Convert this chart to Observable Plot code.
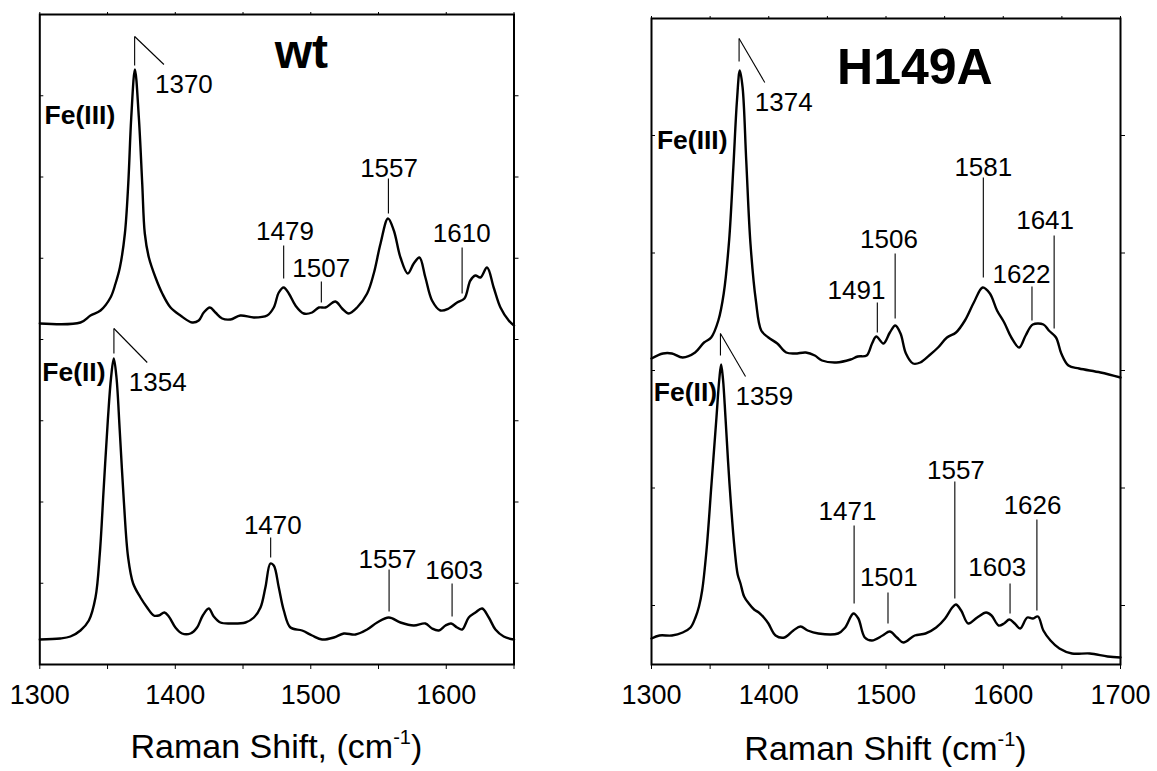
<!DOCTYPE html>
<html><head><meta charset="utf-8">
<script src="https://cdn.jsdelivr.net/npm/d3@7"></script>
<script src="https://cdn.jsdelivr.net/npm/@observablehq/plot@0.6"></script>
<style>
body{margin:0;background:#fff;}
#chart{position:relative;width:1157px;height:771px;overflow:hidden;font-family:"Liberation Sans",Arial,sans-serif;}
#chart svg{position:absolute;top:0;}
</style></head><body><div id="chart"></div>
<script>
// ---------- wt spectra (Raman shift cm-1, intensity a.u.) ----------
const wtFe3Shift = [1300,1330,1337.4,1344.8,1352.2,1355.9,1359.1,1362.8,1365.3,1367.5,1370.2,1373.1,1375.6,1377.5,1380.5,1385.4,1390.4,1396.5,1403.8,1412.4,1417.3,1421,1425.5,1429.6,1434.6,1440.7,1448,1458,1467.8,1472.7,1476.4,1480,1483.8,1488.7,1494.8,1501,1506,1510.8,1518.2,1523.1,1528,1534.2,1541.6,1546.5,1551.5,1557,1561.3,1566.2,1571.6,1576,1580.2,1584.6,1589.5,1595.7,1601.8,1608,1613.4,1617.8,1621.5,1625.2,1630.1,1635,1640,1646.1,1650];
const wtFe3Int   = [341,342,349,354,367,381,397,431,481,547,595,547,481,431,407,387,371,357,349,342,344,352,357,352,346,345,349,347,349,357,372,377,371,359,351,352,357,357,363,356,351,357,371,391,421,446,434,407,391,401,407,387,364,354,356,362,366,384,389,387,397,377,357,344,339];
const wtFe2Shift = [1300,1315,1322.6,1330,1336.2,1341.1,1344.3,1347.2,1350.2,1352.6,1354.6,1356.6,1359,1362,1365.2,1368.9,1374.3,1379.2,1384.1,1387.8,1392,1395.2,1400.1,1405,1411.2,1416.1,1420.3,1424.7,1428.4,1433.3,1440.7,1451.8,1458,1462.9,1466.5,1470.2,1472.7,1476.4,1480.1,1485,1493.6,1501,1508.4,1517,1524.4,1533,1541.6,1549,1557.6,1566.2,1576,1584.6,1589.5,1594.5,1599.4,1603.6,1608,1611.7,1616.6,1621.5,1626.5,1631.4,1636.3,1642.4,1650];
const wtFe2Int   = [25,26,28,34,44,67,111,177,244,287,306,287,234,164,107,81,67,57,49,49,52,48,37,31,31,37,49,56,48,42,41,42,47,57,77,101,99,77,54,37,34,29,25,27,31,30,35,42,47,42,39,41,36,34,39,41,37,35,47,52,56,47,35,28,25];

// ---------- H149A spectra ----------
const hFe3Shift = [1300,1309.8,1317.4,1326.6,1337.2,1344.8,1350.9,1357,1361.6,1366.2,1369.8,1372.9,1375.3,1377.7,1380.8,1384.4,1389,1393.6,1399.7,1407.3,1414.9,1422.5,1431.6,1439.3,1445.4,1457.6,1469.8,1475.9,1483.5,1488.1,1491.7,1497.8,1503.3,1507.9,1512.4,1517,1523.1,1529.2,1536.8,1544.4,1552,1559.7,1567.3,1574.9,1582.5,1588.6,1594.7,1600.8,1606.9,1613.6,1619.1,1625.2,1634.3,1638.9,1645,1649.5,1655.6,1664.7,1683,1700];
const hFe3Int   = [306,311,311,307,312,322,327,344,371,424,497,564,594,577,504,421,364,334,327,321,312,311,312,309,304,302,305,308,309,321,328,321,332,339,331,311,301,302,309,317,327,332,344,362,377,371,354,342,327,317,329,340,340,334,327,311,299,296,292,287];
const hFe2Shift = [1300,1306.8,1317.4,1326.6,1333.3,1337.5,1340.5,1343.2,1346.9,1351.2,1355.4,1357.8,1359.4,1361,1363.1,1366.5,1371,1373.5,1375.9,1379,1383,1387.5,1391.5,1395.8,1399.7,1405.8,1413.4,1421,1427.1,1433.2,1442.3,1459.1,1465.2,1472.2,1476.4,1481.9,1488,1497.1,1503.2,1509.3,1514.8,1524.5,1533.7,1542.8,1550.4,1556.5,1559.6,1564.1,1570.2,1577.8,1585.4,1590,1596.1,1600.7,1605.2,1609.8,1614.4,1620.5,1625.1,1629.6,1634.2,1640.3,1647.9,1658.6,1673.8,1689,1700];
const hFe2Int   = [26,29,29,32,37,47,58,74,114,181,247,285,300,285,247,181,114,90,81,68,61,55,52,47,41,29,27,34,38,34,31,31,37,51,46,27,24,29,33,27,22,29,31,37,46,57,60,54,41,47,52,49,39,41,45,41,36,47,46,48,34,24,16,11,11,8,7];

// ---------- axes ----------
const wtXTicks = [1300,1350,1400,1450,1500,1550,1600,1650];
const hXTicks = [1300,1350,1400,1450,1500,1550,1600,1650,1700];
const xTickLabels = [1300,1400,1500,1600,1700];
const wtYTicks = [81.25,162.5,243.75,325,406.25,487.5,568.75];
const hYTicks = [59,176.5,294,411.5,529];

// ---------- annotations ----------
const wtTitle = [{text:"wt", x:1493, y:597}];
const hTitle = [{text:"H149A", x:1524.6, y:581}];
const wtTags = [{text:"Fe(III)", x:1303.5, y:541},{text:"Fe(II)", x:1301.8, y:284}];
const hTags = [{text:"Fe(III)", x:1304.6, y:516},{text:"Fe(II)", x:1302, y:264}];
const wtPeakLabels = [
  {text:"1370", x:1385, y:572, anchor:"start"},
  {text:"1479", x:1481, y:425, anchor:"middle"},
  {text:"1507", x:1507.7, y:388, anchor:"middle"},
  {text:"1557", x:1557.8, y:488, anchor:"middle"},
  {text:"1610", x:1611.4, y:423, anchor:"middle"},
  {text:"1354", x:1365.7, y:274, anchor:"start"},
  {text:"1470", x:1472, y:131, anchor:"middle"},
  {text:"1557", x:1556.6, y:97, anchor:"middle"},
  {text:"1603", x:1605.8, y:86, anchor:"middle"}
];
const wtLeaders = [
  {x1:1370,y1:599,x2:1370,y2:628},{x1:1370,y1:628,x2:1391.6,y2:600},
  {x1:1480,y1:386,x2:1480,y2:419},
  {x1:1507.8,y1:362,x2:1507.8,y2:383},
  {x1:1557.3,y1:451,x2:1557.3,y2:486},
  {x1:1611.7,y1:371,x2:1611.7,y2:417},
  {x1:1354.7,y1:311,x2:1354.7,y2:336},{x1:1354.7,y1:336,x2:1379.3,y2:302},
  {x1:1470.4,y1:107,x2:1470.4,y2:127},
  {x1:1557.8,y1:53,x2:1557.8,y2:95},
  {x1:1604.3,y1:48,x2:1604.3,y2:81}
];
const hPeakLabels = [
  {text:"1374", x:1388.1, y:554, anchor:"start"},
  {text:"1491", x:1474.8, y:366, anchor:"middle"},
  {text:"1506", x:1502.5, y:417, anchor:"middle"},
  {text:"1581", x:1583, y:489, anchor:"middle"},
  {text:"1622", x:1615.5, y:382, anchor:"middle"},
  {text:"1641", x:1635.7, y:436, anchor:"middle"},
  {text:"1359", x:1371.6, y:260, anchor:"start"},
  {text:"1471", x:1467.2, y:145, anchor:"middle"},
  {text:"1501", x:1502.4, y:79, anchor:"middle"},
  {text:"1557", x:1559.6, y:186, anchor:"middle"},
  {text:"1603", x:1594.9, y:89, anchor:"middle"},
  {text:"1626", x:1625, y:151, anchor:"middle"}
];
const hLeaders = [
  {x1:1374.7,y1:603,x2:1374.7,y2:626},{x1:1374.7,y1:626,x2:1396.6,y2:582},
  {x1:1492.6,y1:332,x2:1492.6,y2:362},
  {x1:1507.8,y1:346,x2:1507.8,y2:411},
  {x1:1583,y1:387,x2:1583,y2:487},
  {x1:1624.5,y1:344,x2:1624.5,y2:378},
  {x1:1643.4,y1:336,x2:1643.4,y2:429},
  {x1:1358.8,y1:309,x2:1358.8,y2:331},{x1:1358.8,y1:331,x2:1380.2,y2:288},
  {x1:1472.8,y1:61,x2:1472.8,y2:139},
  {x1:1501.7,y1:41,x2:1501.7,y2:72},
  {x1:1558.7,y1:66,x2:1558.7,y2:183},
  {x1:1605.8,y1:51,x2:1605.8,y2:81},
  {x1:1628.7,y1:54,x2:1628.7,y2:145}
];

const FONT = "'Liberation Sans', Arial, Helvetica, sans-serif";
const zip = (xs, ys) => xs.map((x, i) => ({x, y: ys[i]}));

function panel(o) {
  const labelOpts = {x: "x", y: "y", text: "text", lineAnchor: "bottom", fontSize: 26, fill: "black"};
  const svg = Plot.plot({
    width: o.width, height: 771,
    marginLeft: o.ml, marginRight: o.mr, marginTop: o.mt, marginBottom: 107,
    style: {fontFamily: FONT, background: "transparent", overflow: "visible"},
    x: {domain: o.xDomain},
    y: {domain: o.yDomain},
    marks: [
      Plot.line(zip(o.s3, o.i3), {x: "x", y: "y", stroke: "black", strokeWidth: 2.4, curve: "catmull-rom"}),
      Plot.line(zip(o.s2, o.i2), {x: "x", y: "y", stroke: "black", strokeWidth: 2.4, curve: "catmull-rom"}),
      Plot.link(o.leaders, {x1: "x1", y1: "y1", x2: "x2", y2: "y2", stroke: "black", strokeWidth: 1.1}),
      Plot.text(o.labels.filter(d => d.anchor === "start"), {...labelOpts, textAnchor: "start"}),
      Plot.text(o.labels.filter(d => d.anchor === "middle"), {...labelOpts, textAnchor: "middle"}),
      Plot.text(o.tags, {x: "x", y: "y", text: "text", textAnchor: "start", lineAnchor: "bottom", fontSize: 26.5, fontWeight: "bold", fill: "black"}),
      Plot.text(o.title, {x: "x", y: "y", text: "text", textAnchor: "middle", lineAnchor: "bottom", fontSize: o.titleSize, fontWeight: "bold", fill: "black"}),
      Plot.axisX({anchor: "bottom", ticks: o.xTicks, tickSize: 5, tickPadding: 15, fontSize: 27, label: null,
        tickFormat: d => xTickLabels.includes(d) ? String(d) : ""}),
      Plot.axisX({anchor: "top", ticks: o.xTicks, tickSize: 3, tickFormat: () => "", label: null}),
      Plot.axisY({anchor: "left", ticks: o.yTicks, tickSize: -4, tickFormat: () => "", label: null}),
      Plot.axisY({anchor: "right", ticks: o.yTicks, tickSize: 4, tickFormat: () => "", label: null}),
      Plot.frame({stroke: "black", strokeWidth: 2})
    ]
  });
  svg.style.left = o.left + "px";
  const cx = o.ml + (o.width - o.ml - o.mr) / 2;
  const t = d3.select(svg).append("text")
    .attr("x", cx).attr("y", o.titleY).attr("text-anchor", "middle")
    .attr("font-size", 34).attr("font-family", FONT).attr("fill", "black");
  t.append("tspan").text(o.axisTitle);
  t.append("tspan").attr("dy", -14).attr("font-size", 20).text("-1");
  t.append("tspan").attr("dy", 14).text(")");
  document.getElementById("chart").appendChild(svg);
}

panel({left: 0, width: 560, ml: 39.3, mr: 46.5, mt: 14, xDomain: [1300, 1650], yDomain: [0, 650],
  s3: wtFe3Shift, i3: wtFe3Int, s2: wtFe2Shift, i2: wtFe2Int, xTicks: wtXTicks, yTicks: wtYTicks,
  leaders: wtLeaders, labels: wtPeakLabels, tags: wtTags, title: wtTitle, titleSize: 48,
  axisTitle: "Raman Shift, (cm", titleY: 758});
panel({left: 597, width: 560, ml: 54, mr: 37, mt: 18, xDomain: [1300, 1700], yDomain: [0, 646],
  s3: hFe3Shift, i3: hFe3Int, s2: hFe2Shift, i2: hFe2Int, xTicks: hXTicks, yTicks: hYTicks,
  leaders: hLeaders, labels: hPeakLabels, tags: hTags, title: hTitle, titleSize: 50,
  axisTitle: "Raman Shift (cm", titleY: 760});
</script></body></html>
